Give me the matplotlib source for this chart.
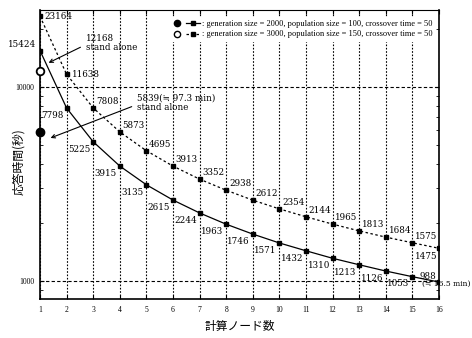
import matplotlib.pyplot as plt
from matplotlib.lines import Line2D
from matplotlib.legend_handler import HandlerTuple
from matplotlib.ticker import FixedLocator, NullFormatter, LogLocator

plt.rcParams['font.family'] = ['Liberation Serif', 'DejaVu Sans', 'Noto Sans CJK JP']

# data
nodes = list(range(1, 17))
gen2000 = [15424, 7798, 5225, 3915, 3135, 2615, 2244, 1963,
           1746, 1571, 1432, 1310, 1213, 1126, 1053, 988]
gen3000 = [23164, 11638, 7808, 5873, 4695, 3913, 3352, 2938,
           2612, 2354, 2144, 1965, 1813, 1684, 1575, 1475]
standalone_2000 = 5839
standalone_3000 = 12168
label_2000 = ': generation size = 2000, population size = 100, crossover time = 50'
label_3000 = ': generation size = 3000, population size = 150, crossover time = 50'

# label font: wider serif, with fallback for ≒
lab_font = ['DejaVu Serif', 'DejaVu Sans']

fig = plt.figure(figsize=(4.72, 3.38), dpi=100)
ax = fig.add_axes([0.0847, 0.1154, 0.8453, 0.855])

ax.set_yscale('log')
ax.set_xlim(1, 16)
ax.set_ylim(808, 24950)

# grid
for x in nodes:
    ax.axvline(x, color='black', lw=0.8, ls=(0, (1.5, 1.5)), zorder=1)
for y in [1000, 10000]:
    ax.axhline(y, color='black', lw=0.8, ls=(0, (3, 2)), zorder=1)

# series
ax.plot(nodes, gen2000, color='black', lw=0.9, marker='s', ms=3, zorder=3)
ax.plot(nodes, gen3000, color='black', lw=0.9, ls=(0, (2, 2)),
        marker='s', ms=3, zorder=3)

# stand alone points
ax.plot([1], [standalone_2000], 'o', color='black', ms=6, clip_on=False, zorder=4)
ax.plot([1], [standalone_3000], 'o', mfc='white', mec='black', mew=1.3, ms=5.5,
        clip_on=False, zorder=4)

# value labels
fs = 6.3
for i, (x, v) in enumerate(zip(nodes, gen2000)):
    off, ha, va = (-2, -2), 'right', 'top'
    if i == 0:
        off, ha, va = (-3, 1), 'right', 'bottom'
    elif i == 15:
        off, ha, va = (-2, 1), 'right', 'bottom'
    ax.annotate(str(v), (x, v), xytext=off, textcoords='offset points',
                ha=ha, va=va, fontsize=fs, family=lab_font, zorder=5)
for i, (x, v) in enumerate(zip(nodes, gen3000)):
    off, ha, va = (2, 1.5), 'left', 'bottom'
    if i in (0, 1):
        off, ha, va = (3.5, 0), 'left', 'center'
    elif i == 15:
        off, ha, va = (-1, -3), 'right', 'top'
    ax.annotate(str(v), (x, v), xytext=off, textcoords='offset points',
                ha=ha, va=va, fontsize=fs, family=lab_font, zorder=5)

ax.annotate('(≒ 16.5 min)', (16, gen2000[-1]), xytext=(-12.5, -1.5),
            textcoords='offset points', ha='left', va='center',
            fontsize=5.5, family=lab_font, zorder=5, annotation_clip=False)

# stand alone annotations
arrow = dict(arrowstyle='->', color='black', lw=0.8, relpos=(0, 0.4))
ax.annotate(f'{standalone_3000}\nstand alone', (1.23, 13140),
            xytext=(2.72, 16900), ha='left', va='center', fontsize=fs,
            family=lab_font, linespacing=1.05, arrowprops=arrow, zorder=5)
ax.annotate(f'{standalone_2000}(≒ 97.3 min)\nstand alone', (1.3, 5400),
            xytext=(4.65, 8300), ha='left', va='center', fontsize=fs,
            family=lab_font, linespacing=1.05, arrowprops=arrow, zorder=5)

# ticks
ax.set_xticks(nodes)
ax.yaxis.set_major_locator(FixedLocator([1000, 10000]))
ax.yaxis.set_major_formatter(plt.FixedFormatter(['1000', '10000']))
ax.yaxis.set_minor_locator(LogLocator(base=10, subs=range(2, 10)))
ax.yaxis.set_minor_formatter(NullFormatter())
ax.tick_params(axis='both', which='both', direction='in', labelsize=5.5,
               top=True, right=True)
ax.tick_params(axis='x', pad=5, length=3)
ax.tick_params(axis='y', which='major', length=3, pad=4)
ax.tick_params(axis='y', which='minor', length=2)

for s in ax.spines.values():
    s.set_linewidth(1.2)
ax.spines['top'].set_linewidth(0.8)

ax.set_xlabel('計算ノード数', family='Noto Sans CJK JP', fontsize=8.5, labelpad=4)
ax.set_ylabel('応答時間(秒)', family='Noto Sans CJK JP', fontsize=8.5)
ax.yaxis.set_label_coords(-0.037, 0.475)

# legend
h1 = (Line2D([], [], ls='none', marker='o', color='black', ms=4.5),
      Line2D([], [], color='black', lw=0.9, marker='s', ms=3))
h2 = (Line2D([], [], ls='none', marker='o', mfc='white', mec='black', ms=4.5),
      Line2D([], [], color='black', lw=0.9, ls=(0, (2, 2)), marker='s', ms=3))
leg = ax.legend([h1, h2], [label_2000, label_3000],
                handler_map={tuple: HandlerTuple(ndivide=None, pad=0.3)},
                loc='upper right', bbox_to_anchor=(1.0, 0.99),
                fontsize=6, handlelength=3.6, handletextpad=0.2,
                labelspacing=0.35, borderpad=0.3, frameon=True,
                fancybox=False, framealpha=1, edgecolor='white')
leg.set_zorder(6)

fig.savefig('out.png', dpi=100)
